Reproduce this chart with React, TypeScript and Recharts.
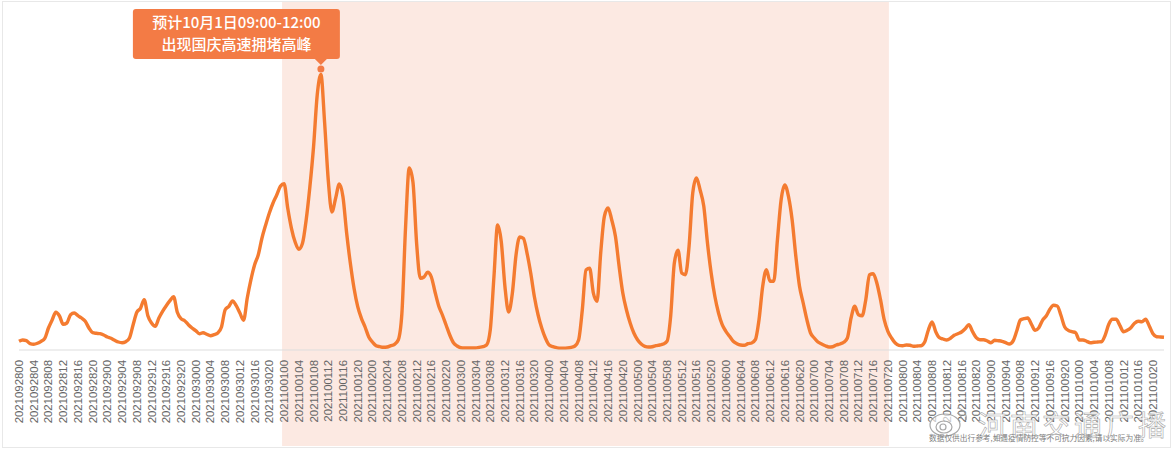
import React from 'react';
import { LineChart, Line, XAxis, YAxis, ReferenceArea, ReferenceDot } from 'recharts';

const sep28 = [8.7,10,9.3,6.3,5.7,6.7,8.7,11.7,22,30,37.7,34,25.7,27,35.3,37,34.3,32,28.7,22,17.3,16.7,16.3,15];
const sep29 = [13,11.7,9.7,8,7.3,8.3,12,25.3,37.7,41.7,50.3,34.3,27,23.7,32,38.7,44.3,49.3,53.3,37.7,31.3,29.3,25.3,22];
const sep30 = [19.3,16.3,17.3,15.7,14.3,15.3,17,23,40.3,43.7,49,44.3,37,29.7,52,70.3,85.3,95.3,112,125,137,147,155,163.7];
const oct01 = [166.3,141.7,121.7,108,100.7,106.7,130,163,203,255,275.5,228,170,138,151.7,166,153,116.7,86.7,61.7,43.3,31.7,23,13];
const oct02 = [8,4.3,3.3,2.7,3,4.3,5.7,10,36.7,123,182,168,106.7,71.7,73,77.7,73,58,44,35,25,15,7.3,4];
const oct03 = [2.3,2,2,2,2,2.7,3.3,5,20,73,125,108,63,38,56.7,95,113,111.7,96.7,76.7,53,35,21.7,11.7];
const oct04 = [5,3.3,2.3,1.7,1.7,2,2.7,4,10,40,80,81.7,57,48.7,97,133.7,142,130,113.7,83.7,57,40,27,17];
const oct05 = [10.3,6,3.7,3,3.3,4.3,5,6,8.7,33.7,87,99.7,77,75.3,103.7,157,172,160,143.7,107,77,53.7,37,25.3];
const oct06 = [18.7,13.7,8.7,6.3,5,4.7,6.3,7,10.3,30.3,63.7,80.3,68.7,68.7,110,150,165,153.7,130,93.7,63.7,47,30.3,17];
const oct07 = [12,8,6,4.3,3,3.3,5,6,7.7,12,32,43.7,35.3,34.3,50.3,75.3,76.3,67,50.3,30.3,18.7,12,7,4.7];
const oct08 = [4.3,5,4.7,3.7,4,4.3,8,20,28,18.3,12.3,11,10,11.7,14.7,16.3,18,21.3,25.3,18.3,12.3,10.3,10.3,9];
const oct09 = [7.3,9.7,9.3,8.7,7.3,6,9,19,30,31.3,32,25.7,19.7,22.3,29.7,34,40.7,44.7,44,34.7,23.3,19.7,18.3,17.3];
const oct10 = [10,10,8.7,7.3,7.7,8,8.3,14.7,25.7,30.7,30.7,24.7,18.3,19.7,22.3,26.7,28.7,28.3,30.7,24,16.3,13.3,13,12.7];

const dayKeys = ['20210928','20210929','20210930','20211001','20211002','20211003','20211004','20211005','20211006','20211007','20211008','20211009','20211010'];
const dayValues = [sep28,sep29,sep30,oct01,oct02,oct03,oct04,oct05,oct06,oct07,oct08,oct09,oct10];
const rows = dayKeys.flatMap((d, i) => dayValues[i].map((v, h) => ({ hour: d + String(h).padStart(2, '0'), value: v })));

const holidayStart = '2021100100';
const holidayEnd = '2021100720';
const peakHour = '2021100110';
const calloutLines = ['预计10月1日09:00-12:00', '出现国庆高速拥堵高峰'];
const disclaimer = '数据仅供出行参考,如遇疫情防控等不可抗力因素,请以实际为准。';
const watermark = '河南交通广播';

const ORANGE = '#F47B30';
const CALLOUT = '#F37B45';
const CJK = '"Noto Sans CJK SC", sans-serif';

const Tick = (props: any) => {
  const { x, y, payload } = props;
  return (
    <text transform={`translate(${x + 4},${y + 4}) rotate(-90)`} textAnchor="end" fontSize={11.4} fontFamily="Liberation Sans" fill="#666">
      {payload.value}
    </text>
  );
};

const Band = (props: any) => <rect x={props.x - 2} width={props.width + 3} y={2} height={444} fill="#FCE9E2" />;

const Callout = (props: any) => {
  const { cx } = props;
  const left = cx - 188;
  return (
    <g>
      <circle cx={cx} cy={69} r={3.5} fill={CALLOUT} />
      <rect x={left} y={9} width={207} height={50} rx={3} fill={CALLOUT} />
      <path d={`M${cx - 6} 59 L${cx + 6} 59 L${cx} 65 Z`} fill={CALLOUT} />
      {calloutLines.map((t, i) => (
        <text key={t} x={left + 103.5} y={28 + i * 22} textAnchor="middle" fill="#fff" fontSize={15} fontWeight={500} fontFamily={CJK}>{t}</text>
      ))}
    </g>
  );
};

export default function App() {
  return (
    <div style={{ position: 'absolute', left: 0, top: 0, width: 1173, height: 450, background: '#fff' }}>
      <div style={{ position: 'absolute', left: 2, top: 1, width: 1167, height: 445, border: '1px solid #E8E8E8' }} />
      <LineChart width={1173} height={450} data={rows} margin={{ top: 60, right: 9, bottom: 0, left: 19 }} style={{ position: 'absolute', left: 0, top: 0 }}>
        <YAxis hide domain={[0, 290]} />
        <XAxis dataKey="hour" interval={3} height={100} tick={<Tick />} tickLine={false} axisLine={{ stroke: '#DDD' }} tickMargin={0} />
        <ReferenceArea x1={holidayStart} x2={holidayEnd} shape={<Band />} ifOverflow="visible" />
        <Line dataKey="value" type="monotone" stroke={ORANGE} strokeWidth={3.4} dot={false} isAnimationActive={false} />
        <ReferenceDot x={peakHour} y={281} shape={<Callout />} ifOverflow="visible" />
      </LineChart>
      <svg width={1173} height={450} style={{ position: 'absolute', left: 0, top: 0, pointerEvents: 'none' }}>
        <g fill="none" stroke="#999" strokeWidth={1.2} opacity={0.85}>
          <ellipse cx={945} cy={425} rx={15} ry={11} fill="#fff" fillOpacity={0.75} />
          <ellipse cx={944} cy={427} rx={8} ry={6} />
          <circle cx={943} cy={427} r={3} />
          <path d="M957 408 a10 10 0 0 1 9 12" />
          <path d="M957 413 a5 5 0 0 1 4 6" />
        </g>
        <text x={978} y={436} fontSize={28} fontFamily={CJK} fill="#fff" fillOpacity={0.85} stroke="#AAA" strokeWidth={0.6} letterSpacing={4}>{watermark}</text>
        <text x={929} y={441} fontSize={7.7} fontFamily={CJK} fill="#808080">{disclaimer}</text>
      </svg>
    </div>
  );
}
